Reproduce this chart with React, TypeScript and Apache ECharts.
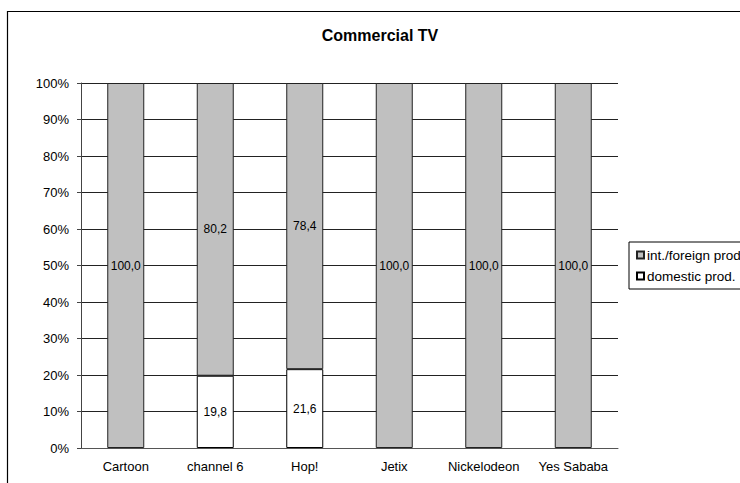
import React, { useEffect, useRef } from "react";
import * as echarts from "echarts";

const categories = ["Cartoon", "channel 6", "Hop!", "Jetix", "Nickelodeon", "Yes Sababa"];
const domesticValues = [0, 19.8, 21.6, 0, 0, 0];
const foreignValues = [100.0, 80.2, 78.4, 100.0, 100.0, 100.0];
const yTicks = { min: 0, max: 100, interval: 10 };
const titleText = "Commercial TV";
const foreignName = "int./foreign prod.";
const domesticName = "domestic prod.";

const FONT = "'Liberation Sans', Arial, sans-serif";

export default function App() {
  const ref = useRef<HTMLDivElement>(null);
  useEffect(() => {
    if (!ref.current) return;
    const chart = echarts.init(ref.current, null, { renderer: "svg" });
    const fmt = (p: any) => (p.value ? Number(p.value).toFixed(1).replace(".", ",") : "");
    const nz = (arr: number[]) => arr.map((v) => (v === 0 ? "-" : v));
    chart.setOption({
      animation: false,
      backgroundColor: "#fff",
      textStyle: { fontFamily: FONT, color: "#000" },
      title: {
        text: titleText,
        left: 375,
        top: 22,
        textAlign: "center",
        textStyle: { fontFamily: FONT, fontSize: 16, fontWeight: "bold", color: "#000" },
      },
      graphic: [
        {
          type: "rect",
          shape: { x: 7.5, y: 11.5, width: 800, height: 600 },
          style: { fill: "none", stroke: "#000", lineWidth: 1.2 },
          silent: true,
        },
      ],
      legend: {
        data: [foreignName, domesticName],
        orient: "vertical",
        left: 629,
        top: 242,
        padding: [6, 12, 6, 7],
        itemGap: 7,
        itemWidth: 7,
        itemHeight: 7,
        icon: "rect",
        borderColor: "#000",
        borderWidth: 1,
        textStyle: { fontFamily: FONT, fontSize: 13.5, color: "#000", padding: [0, 0, 0, -2] },
      },
      grid: { left: 81, top: 83, width: 537, height: 365, containLabel: false },
      xAxis: {
        type: "category",
        data: categories,
        axisTick: { show: false },
        axisLine: { show: true, lineStyle: { color: "#555", width: 1 } },
        axisLabel: { fontFamily: FONT, fontSize: 13, color: "#000", margin: 12, interval: 0 },
        splitLine: { show: false },
      },
      yAxis: {
        type: "value",
        min: yTicks.min,
        max: yTicks.max,
        interval: yTicks.interval,
        axisLine: { show: true, lineStyle: { color: "#444", width: 1 } },
        axisTick: { show: true, length: 4, lineStyle: { color: "#444" } },
        axisLabel: { fontFamily: FONT, fontSize: 13, color: "#000", margin: 12, formatter: "{value}%" },
        splitLine: { show: true, lineStyle: { color: "#222", width: 1 } },
      },
      series: [
        {
          name: domesticName,
          type: "bar",
          stack: "total",
          barWidth: 37,
          data: nz(domesticValues),
          itemStyle: { color: "#fff", borderColor: "#000", borderWidth: 1 },
          label: { show: true, position: "inside", formatter: fmt, fontFamily: FONT, fontSize: 12, color: "#000" },
        },
        {
          name: foreignName,
          type: "bar",
          stack: "total",
          barWidth: 37,
          data: nz(foreignValues),
          itemStyle: { color: "#C0C0C0", borderColor: "#222", borderWidth: 1 },
          label: { show: true, position: "inside", formatter: fmt, fontFamily: FONT, fontSize: 12, color: "#000" },
        },
      ],
    });
    return () => chart.dispose();
  }, []);
  return (
    <div
      ref={ref}
      style={{ position: "fixed", left: 0, top: 0, width: 740, height: 483, background: "#fff" }}
    />
  );
}
